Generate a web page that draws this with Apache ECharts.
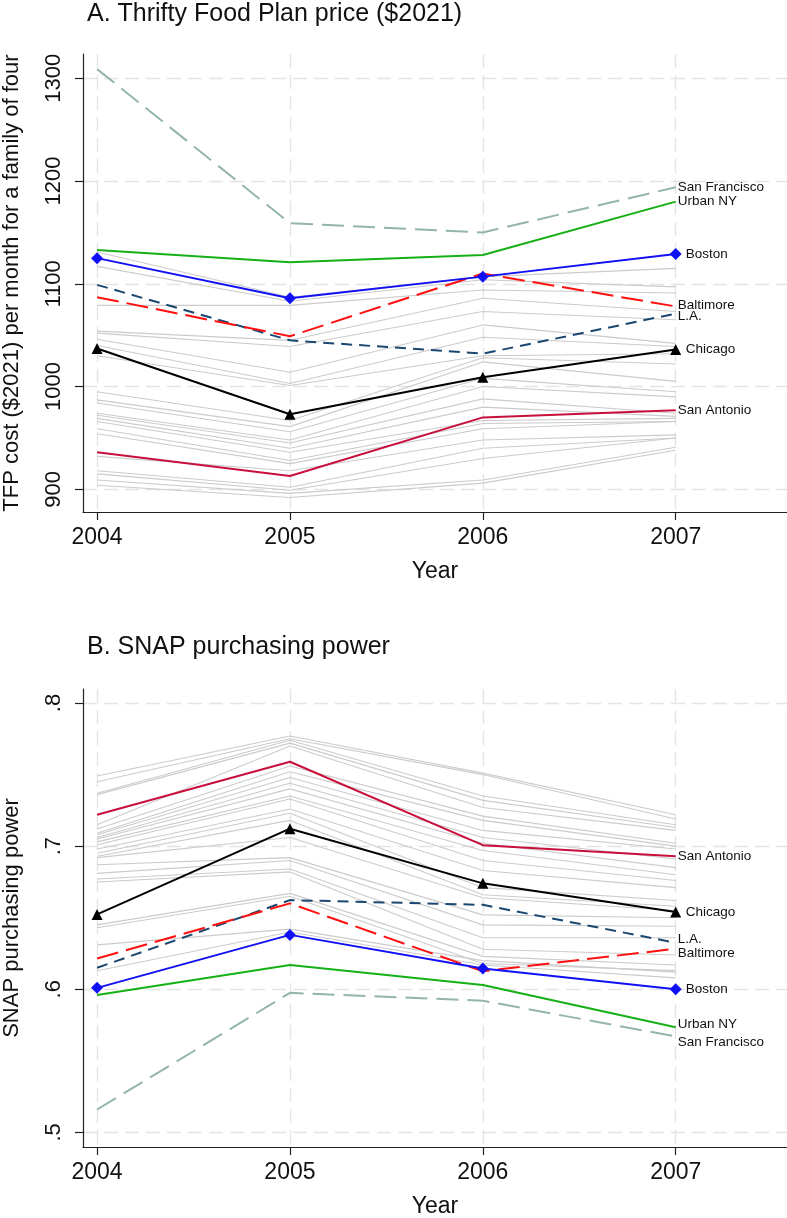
<!DOCTYPE html>
<html>
<head>
<meta charset="utf-8">
<script src="https://cdn.jsdelivr.net/npm/echarts@6/dist/echarts.min.js"></script>
<style>
  html, body { margin: 0; padding: 0; background: #fff; }
  #chart { width: 787px; height: 1218px; }
</style>
</head>
<body>
<div id="chart"></div>
<script>
const years = [2004, 2005, 2006, 2007];

// Panel A: TFP cost ($2021) per month, family of four
const tfpSanFrancisco = [1309, 1159, 1150, 1194];
const tfpUrbanNY = [1133, 1121, 1128, 1180];
const tfpBoston = [1125, 1086, 1107, 1129];
const tfpBaltimore = [1087, 1049, 1110, 1078];
const tfpLA = [1099, 1045, 1032, 1071];
const tfpChicago = [1037, 973, 1009, 1036];
const tfpSanAntonio = [936, 913, 970, 977];
const tfpOtherCities = [
  [1131, 1087, 1107, 1115],
  [1117, 1083, 1104, 1097],
  [1079, 1079, 1094, 1091],
  [1054, 1045, 1086, 1073],
  [1052, 1039, 1073, 1065],
  [1046, 1014, 1060, 1042],
  [1040, 1003, 1048, 1039],
  [1030, 1001, 1030, 1032],
  [995, 967, 1028, 1022],
  [987, 961, 1024, 1005],
  [984, 956, 1008, 995],
  [974, 948, 1000, 990],
  [972, 945, 988, 974],
  [969, 940, 980, 971],
  [966, 936, 967, 969],
  [959, 928, 964, 966],
  [954, 925, 959, 966],
  [932, 918, 948, 953],
  [918, 902, 940, 950],
  [915, 899, 930, 950],
  [909, 896, 909, 941],
  [904, 892, 906, 938]
];

// Panel B: SNAP purchasing power
const snapSanFrancisco = [0.516, 0.5975, 0.592, 0.567];
const snapUrbanNY = [0.596, 0.617, 0.603, 0.5735];
const snapBoston = [0.601, 0.638, 0.6145, 0.600];
const snapBaltimore = [0.6215, 0.660, 0.6126, 0.6283];
const snapLA = [0.615, 0.6623, 0.659, 0.6325];
const snapChicago = [0.6523, 0.7122, 0.674, 0.654];
const snapSanAntonio = [0.722, 0.759, 0.7007, 0.693];
const snapOtherCities = [
  [0.749, 0.777, 0.751, 0.722],
  [0.745, 0.775, 0.750, 0.719],
  [0.737, 0.774, 0.735, 0.715],
  [0.736, 0.772, 0.732, 0.713],
  [0.715, 0.770, 0.727, 0.711],
  [0.712, 0.756, 0.721, 0.702],
  [0.709, 0.752, 0.718, 0.700],
  [0.708, 0.748, 0.711, 0.698],
  [0.706, 0.744, 0.706, 0.691],
  [0.705, 0.740, 0.702, 0.685],
  [0.703, 0.735, 0.697, 0.680],
  [0.701, 0.733, 0.690, 0.676],
  [0.698, 0.726, 0.683, 0.671],
  [0.695, 0.723, 0.671, 0.662],
  [0.693, 0.718, 0.666, 0.658],
  [0.692, 0.706, 0.664, 0.655],
  [0.687, 0.692, 0.652, 0.650],
  [0.681, 0.690, 0.645, 0.644],
  [0.677, 0.684, 0.636, 0.636],
  [0.675, 0.682, 0.628, 0.624],
  [0.645, 0.667, 0.623, 0.617],
  [0.643, 0.665, 0.618, 0.613],
  [0.631, 0.642, 0.620, 0.612],
  [0.613, 0.640, 0.617, 0.608]
];

const tfpTicks = [900, 1000, 1100, 1200, 1300];
const snapTicks = [0.5, 0.6, 0.7, 0.8];

const FONT = '"Liberation Sans", Arial, Helvetica, sans-serif';
const gridLine = { show: true, lineStyle: { color: '#e4e4e4', width: 1.4, type: [14, 7] } };

function pts(vals) {
  return years.map((y, i) => [y, vals[i]]);
}

function gray(vals, idx) {
  return {
    type: 'line', xAxisIndex: idx, yAxisIndex: idx, data: pts(vals),
    symbol: 'none', silent: true, z: 1,
    lineStyle: { color: '#cbcbcb', width: 1.1 }
  };
}

function city(name, vals, idx, color, dash, symbol, size, dy) {
  const hasMark = symbol !== 'none';
  return {
    type: 'line', name: name, xAxisIndex: idx, yAxisIndex: idx, data: pts(vals),
    symbol: symbol, symbolSize: size, showSymbol: hasMark, z: 3,
    itemStyle: { color: color },
    lineStyle: { color: color, width: 2, type: dash },
    endLabel: {
      show: true, formatter: name, color: '#111', fontFamily: FONT, fontSize: 13.5,
      distance: hasMark ? 10 : 2, offset: [0, dy || 0]
    }
  };
}

function xAx(idx) {
  return {
    type: 'value', gridIndex: idx, min: 2003.927, max: 2007.577,
    name: 'Year', nameLocation: 'middle', nameGap: 48,
    nameTextStyle: { fontFamily: FONT, fontSize: 23, color: '#111' },
    axisLine: { lineStyle: { color: '#222', width: 1.2 } },
    axisTick: { customValues: years, length: 8, lineStyle: { color: '#222', width: 1.2 } },
    axisLabel: { customValues: years, margin: 14, fontFamily: FONT, fontSize: 23, color: '#111', formatter: v => String(v) },
    splitLine: gridLine
  };
}

function yAx(idx, min, max, ticks, name, fmt) {
  return {
    type: 'value', gridIndex: idx, min: min, max: max,
    name: name, nameLocation: 'middle', nameGap: 60,
    nameTextStyle: { fontFamily: FONT, fontSize: 22, color: '#111' },
    axisLine: { show: true, lineStyle: { color: '#222', width: 1.2 } },
    axisTick: { show: true, customValues: ticks, length: 8, lineStyle: { color: '#222', width: 1.2 } },
    axisLabel: { customValues: ticks, rotate: 90, margin: 18, fontFamily: FONT, fontSize: 22, color: '#111', formatter: fmt },
    splitLine: gridLine
  };
}

const series = [];
tfpOtherCities.forEach(v => series.push(gray(v, 0)));
snapOtherCities.forEach(v => series.push(gray(v, 1)));

series.push(
  city('San Francisco', tfpSanFrancisco, 0, '#93b5aa', [22, 9], 'none', 0, 0),
  city('Urban NY', tfpUrbanNY, 0, '#15b015', 'solid', 'none', 0, 0),
  city('L.A.', tfpLA, 0, '#1a476f', [11, 7], 'none', 0, 3),
  city('Baltimore', tfpBaltimore, 0, '#ff1010', [22, 8], 'none', 0, -1),
  city('San Antonio', tfpSanAntonio, 0, '#c80f3a', 'solid', 'none', 0, 0),
  city('Chicago', tfpChicago, 0, '#000000', 'solid', 'triangle', 11, 0),
  city('Boston', tfpBoston, 0, '#1010f5', 'solid', 'diamond', 12, 0),

  city('San Francisco', snapSanFrancisco, 1, '#93b5aa', [22, 9], 'none', 0, 6),
  city('Urban NY', snapUrbanNY, 1, '#15b015', 'solid', 'none', 0, -3),
  city('L.A.', snapLA, 1, '#1a476f', [11, 7], 'none', 0, -3),
  city('Baltimore', snapBaltimore, 1, '#ff1010', [22, 8], 'none', 0, 5),
  city('San Antonio', snapSanAntonio, 1, '#c80f3a', 'solid', 'none', 0, 0),
  city('Chicago', snapChicago, 1, '#000000', 'solid', 'triangle', 11, 0),
  city('Boston', snapBoston, 1, '#1010f5', 'solid', 'diamond', 12, 0)
);

const chart = echarts.init(document.getElementById('chart'), null, { renderer: 'canvas' });
chart.setOption({
  backgroundColor: '#ffffff',
  animation: false,
  title: [
    { text: 'A. Thrifty Food Plan price ($2021)', left: 87, top: 2, padding: 0,
      textStyle: { fontFamily: FONT, fontSize: 25, fontWeight: 'normal', color: '#111' } },
    { text: 'B. SNAP purchasing power', left: 87, top: 635, padding: 0,
      textStyle: { fontFamily: FONT, fontSize: 25, fontWeight: 'normal', color: '#111' } }
  ],
  grid: [
    { left: 83, right: 0, top: 54, height: 458, containLabel: false, outerBoundsMode: 'none' },
    { left: 83, right: 0, top: 689, height: 458, containLabel: false, outerBoundsMode: 'none' }
  ],
  xAxis: [xAx(0), xAx(1)],
  yAxis: [
    yAx(0, 877.9, 1323.7, tfpTicks, 'TFP cost ($2021) per month for a family of four', v => String(v)),
    yAx(1, 0.4898, 0.8098, snapTicks, 'SNAP purchasing power', v => String(v).replace(/^0/, ''))
  ],
  series: series
});
</script>
</body>
</html>
